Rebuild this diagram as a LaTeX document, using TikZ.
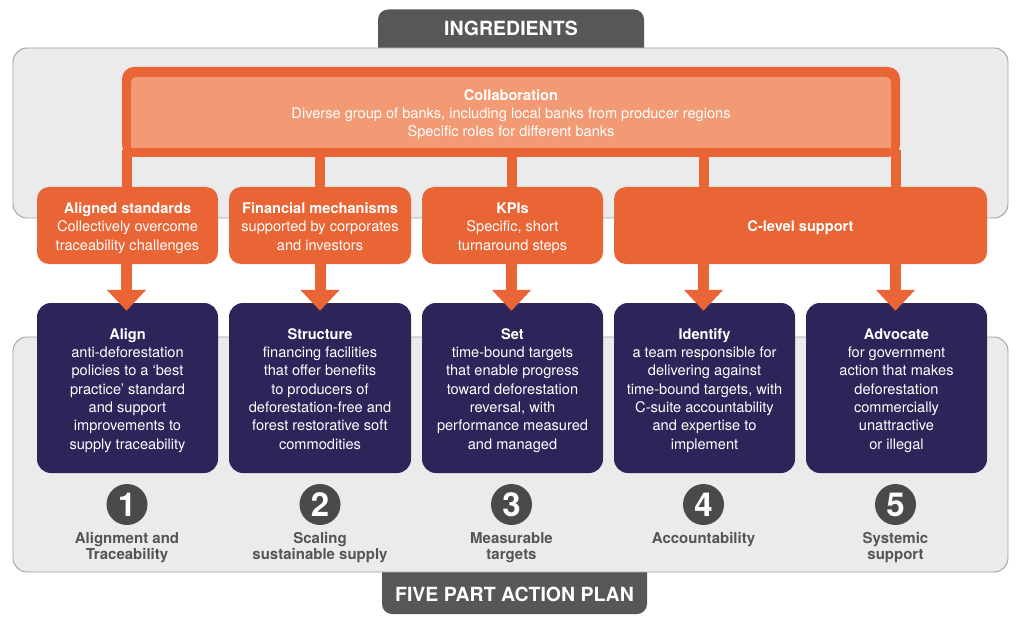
\documentclass[tikz,border=0pt]{standalone}
\usepackage{fontspec}
\setmainfont{TeX Gyre Heros}
\usetikzlibrary{arrows.meta}
\definecolor{orng}{HTML}{E96535}
\definecolor{salmon}{HTML}{F29A74}
\definecolor{navy}{HTML}{2D2459}
\definecolor{tabgrey}{HTML}{575757}
\definecolor{circgrey}{HTML}{4A4A4A}
\definecolor{labgrey}{HTML}{555555}
\definecolor{boxfill}{HTML}{EBEBEB}
\definecolor{boxline}{HTML}{A0A0A0}
\newcommand\topst{\rule{0pt}{17.9pt}}
\newcommand\botst{\rule[-5.5pt]{0pt}{5.5pt}}
\begin{document}
\begin{tikzpicture}[x=1pt,y=-1pt,
  greybox/.style={draw=boxline, line width=0.9pt, fill=boxfill, rounded corners=14pt, inner sep=0pt},
  tabbox/.style={fill=tabgrey, rounded corners=10pt, inner sep=0pt},
  tabtext/.style={text=white, font=\fontsize{19.5}{22}\selectfont\bfseries, inner sep=0pt},
  framebox/.style={fill=orng, rounded corners=12pt, inner sep=0pt},
  collabbox/.style={fill=salmon, rounded corners=5pt, inner sep=0pt, text=white, align=center, font=\fontsize{14.6}{18}\selectfont},
  obox/.style={fill=orng, rounded corners=12pt, inner sep=0pt, minimum height=77pt, text=white, align=center, font=\fontsize{14.6}{18.5}\selectfont},
  pbox/.style={fill=navy, rounded corners=14pt, inner sep=0pt, minimum height=170pt, text=white, align=center, font=\fontsize{14.6}{18.35}\selectfont},
  stem/.style={draw=orng, line width=10pt},
  arr/.style={draw=orng, line width=11pt, -{Triangle[width=38pt,length=21pt]}},
  numcirc/.style={circle, fill=circgrey, minimum size=41pt, inner sep=0pt, text=white, font=\fontsize{33}{33}\selectfont\bfseries},
  lab/.style={anchor=north, inner sep=0pt, text=labgrey, align=center, font=\fontsize{15}{16}\selectfont\bfseries}
]
\useasboundingbox (0,0) rectangle (1024,628);
\fill[white] (0,0) rectangle (1024,628);

% tabs (drawn beneath the grey panels)
\node[tabbox, minimum width=266pt, minimum height=70.5pt] (ingtab) at (511,44.75) {};
\node[tabbox, minimum width=265pt, minimum height=74pt] (plantab) at (514.5,577) {};

% grey panels
\node[greybox, minimum width=995pt, minimum height=170pt] (toppanel) at (510.5,133) {};
\node[greybox, minimum width=995pt, minimum height=235pt] (botpanel) at (510.5,454.5) {};

\node[tabtext] (ingtitle) at (511,28.5) {INGREDIENTS};
\node[tabtext] (plantitle) at (514.5,594) {FIVE PART ACTION PLAN};

% collaboration frame
\node[framebox, minimum width=778pt, minimum height=90pt] (collabframe) at (511,112) {};
\node[collabbox, minimum width=760pt, minimum height=71pt] (collab) at (511,112.5)
  {\topst\textbf{Collaboration}\\Diverse group of banks, including local banks from producer regions\\Specific roles for different banks\botst};
\fill[salmon] ([yshift=5.5pt]collab.south west) rectangle (collab.south east);

% orange boxes
\node[obox, minimum width=181pt] (ob1) at (127.5,225.5) {\topst\textbf{Aligned standards}\\Collectively overcome\\traceability challenges\botst};
\node[obox, minimum width=182pt] (ob2) at (320,225.5) {\topst\textbf{Financial mechanisms}\\supported by corporates\\and investors\botst};
\node[obox, minimum width=181pt] (ob3) at (512.5,225.5) {\topst\textbf{KPIs}\\Specific, short\\turnaround steps\botst};
\node[obox, minimum width=373pt] (ob4) at (800.5,225.5) {\topst\textbf{C-level support}\botst};

% stems from collaboration bar
\coordinate (s1) at (126.5,150);
\coordinate (s2) at (320,150);
\coordinate (s3) at (511.5,150);
\coordinate (s4) at (703.5,150);
\coordinate (s5) at (895.5,150);
\draw[stem] (s1) -- (s1 |- ob1.north);
\draw[stem] (s2) -- (s2 |- ob2.north);
\draw[stem] (s3) -- (s3 |- ob3.north);
\draw[stem] (s4) -- (s4 |- ob4.north);
\draw[stem] (s5) -- (s5 |- ob4.north);

% purple boxes
\node[pbox, minimum width=181pt] (pb1) at (127.5,388) {\topst\textbf{Align}\\anti-deforestation\\policies to a ‘best\\practice’ standard\\and support\\improvements to\\supply traceability\botst};
\node[pbox, minimum width=182pt] (pb2) at (320,388) {\topst\textbf{Structure}\\financing facilities\\that offer benefits\\to producers of\\deforestation-free and\\forest restorative soft\\commodities\botst};
\node[pbox, minimum width=181pt] (pb3) at (512.5,388) {\topst\textbf{Set}\\time-bound targets\\that enable progress\\toward deforestation\\reversal, with\\performance measured\\and managed\botst};
\node[pbox, minimum width=181pt] (pb4) at (704.5,388) {\topst\textbf{Identify}\\a team responsible for\\delivering against\\time-bound targets, with\\C-suite accountability\\and expertise to\\implement\botst};
\node[pbox, minimum width=181pt] (pb5) at (896.5,388) {\topst\textbf{Advocate}\\for government\\action that makes\\deforestation\\commercially\\unattractive\\or illegal\botst};

% arrows
\draw[arr] (ob1.south -| s1) -- ([yshift=-8pt]s1 |- pb1.north);
\draw[arr] (ob2.south -| s2) -- ([yshift=-8pt]s2 |- pb2.north);
\draw[arr] (ob3.south -| s3) -- ([yshift=-8pt]s3 |- pb3.north);
\draw[arr] (ob4.south -| s4) -- ([yshift=-8pt]s4 |- pb4.north);
\draw[arr] (ob4.south -| s5) -- ([yshift=-8pt]s5 |- pb5.north);

% numbers
\node[numcirc] (n1) at (127,504.5) {1};
\node[numcirc] (n2) at (320,504.5) {2};
\node[numcirc] (n3) at (511.5,504.5) {3};
\node[numcirc] (n4) at (703.5,504.5) {4};
\node[numcirc] (n5) at (895.5,504.5) {5};

\node[lab] (l1) at (127,532.5) {Alignment and\\Traceability};
\node[lab] (l2) at (320,532.5) {Scaling\\sustainable supply};
\node[lab] (l3) at (511.5,532.5) {Measurable\\targets};
\node[lab] (l4) at (703.5,532.5) {Accountability};
\node[lab] (l5) at (895.5,532.5) {Systemic\\support};
\end{tikzpicture}
\end{document}
